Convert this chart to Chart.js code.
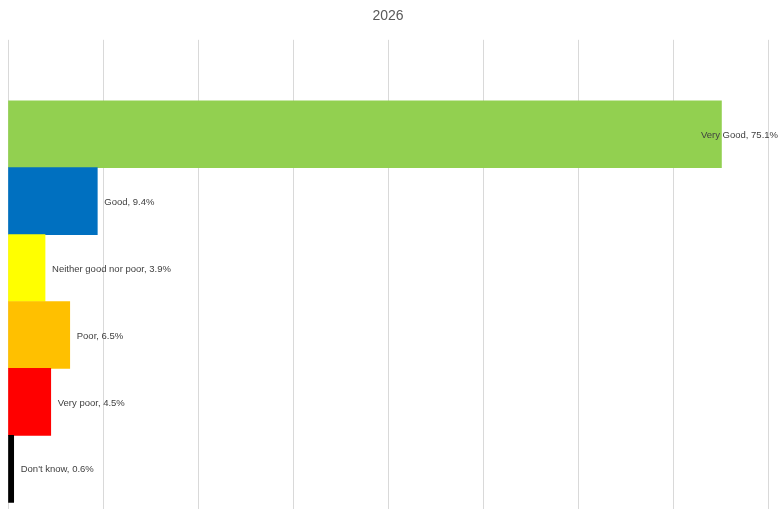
<!DOCTYPE html>
<html>
<head>
<meta charset="utf-8">
<script src="https://cdn.jsdelivr.net/npm/chart.js@4/dist/chart.umd.min.js"></script>
<style>
  html, body { margin: 0; padding: 0; background: #fff; }
  #wrap { width: 781px; height: 509px; }
</style>
</head>
<body>
<div id="wrap"><canvas id="chart"></canvas></div>
<script>
// 2026 rating breakdown
const categories = ['Very Good', 'Good', 'Neither good nor poor', 'Poor', 'Very poor', "Don't know"];
const percents = [75.1, 9.4, 3.9, 6.5, 4.5, 0.6];
const barColors = ['#92D050', '#0070C0', '#FFFF00', '#FFC000', '#FF0000', '#000000'];
const xTicks = [0, 10, 20, 30, 40, 50, 60, 70, 80];

// data labels: "Name, 12.3%" just right of the bar end, kept inside the canvas
const barLabels = {
  id: 'barLabels',
  afterDatasetsDraw(chart) {
    const ctx = chart.ctx;
    const meta = chart.getDatasetMeta(0);
    ctx.save();
    ctx.font = '9.5px "Liberation Sans", Arial, sans-serif';
    ctx.fillStyle = '#404040';
    ctx.textBaseline = 'middle';
    meta.data.forEach((bar, i) => {
      const txt = categories[i] + ', ' + percents[i].toFixed(1) + '%';
      const w = ctx.measureText(txt).width;
      let x = bar.x + 7;
      if (x + w > chart.width - 3) x = chart.width - 3 - w;
      ctx.fillText(txt, x, bar.y + 1);
    });
    ctx.restore();
  }
};

new Chart(document.getElementById('chart'), {
  type: 'bar',
  data: {
    datasets: [{
      data: percents.map((v, i) => ({ x: v, y: i })),
      backgroundColor: barColors,
      borderWidth: 0,
      barPercentage: 1,
      categoryPercentage: 1
    }]
  },
  options: {
    indexAxis: 'y',
    responsive: true,
    maintainAspectRatio: false,
    animation: false,
    layout: { padding: { left: 8, right: 13, top: 0, bottom: 0 } },
    plugins: {
      legend: { display: false },
      tooltip: { enabled: false },
      title: {
        display: true,
        text: '2026',
        color: '#595959',
        font: { family: '"Liberation Sans", Arial, sans-serif', size: 14, weight: 'normal' },
        padding: { top: 8, bottom: 15 }
      }
    },
    scales: {
      x: {
        min: xTicks[0],
        max: xTicks[xTicks.length - 1],
        afterBuildTicks: (axis) => { axis.ticks = xTicks.map(v => ({ value: v })); },
        ticks: { display: false },
        grid: { color: '#d9d9d9', drawTicks: false },
        border: { display: false }
      },
      y: {
        type: 'linear',
        reverse: true,
        offset: false,
        min: -1.41,
        max: 5.6,
        display: false,
        grid: { offset: false },
        afterBuildTicks: (axis) => {
          axis.ticks = categories.map((c, i) => ({ value: i }));
        }
      }
    }
  },
  plugins: [barLabels]
});
</script>
</body>
</html>
